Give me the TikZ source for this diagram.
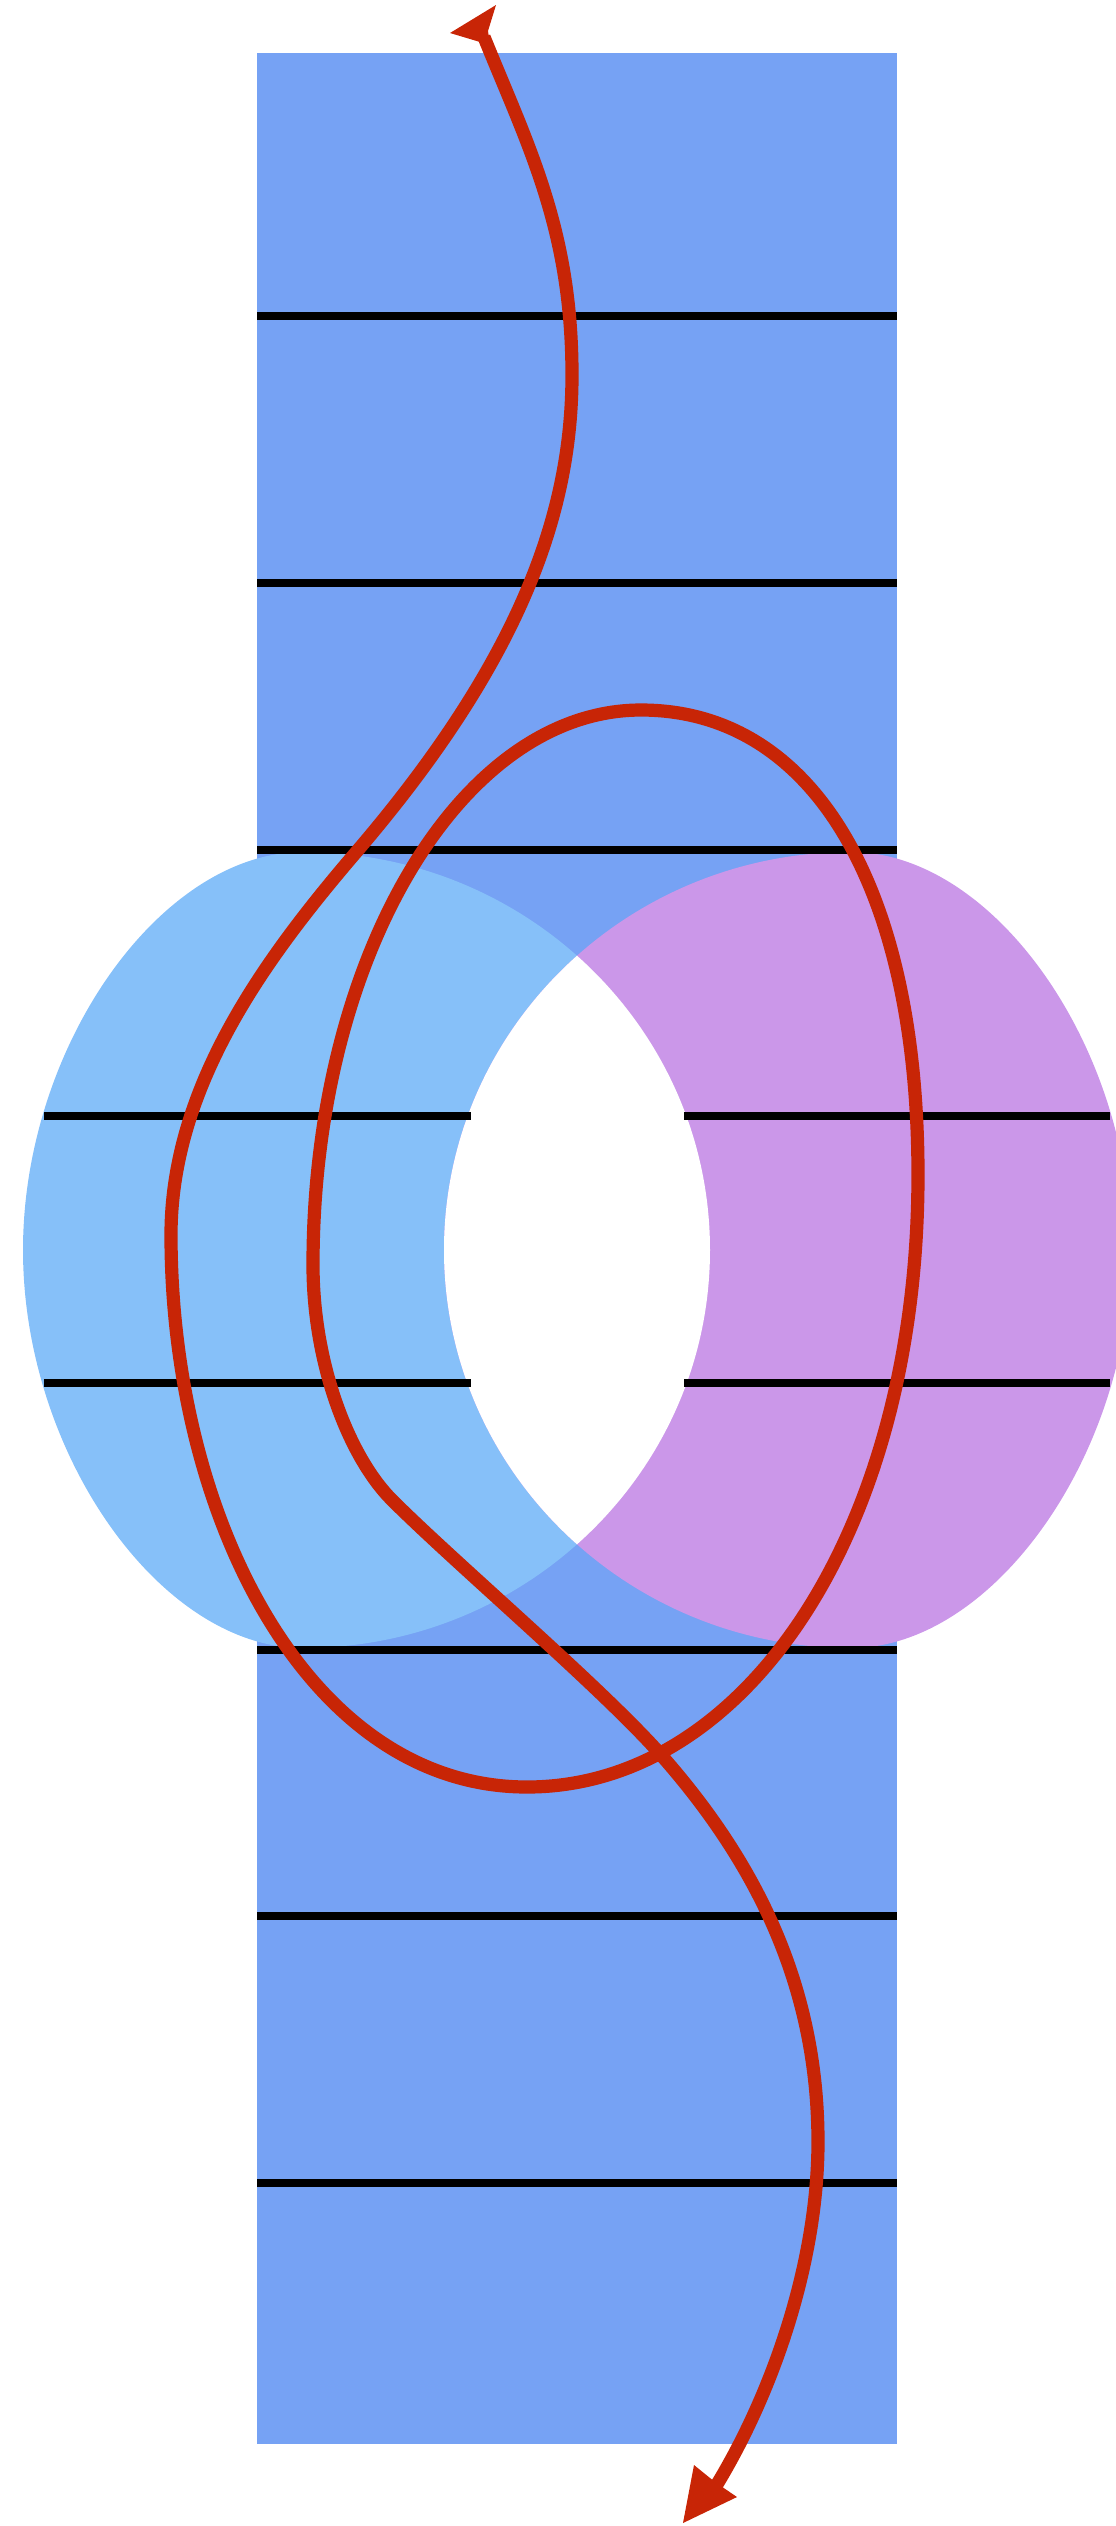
\documentclass[tikz,border=0pt]{standalone}
\definecolor{rectblue}{HTML}{76A2F4}
\definecolor{discblue}{HTML}{86C0F9}
\definecolor{discpurple}{HTML}{CB97E9}
\definecolor{curvered}{HTML}{C82506}
\tikzset{
  hline/.style={draw=black, line width=0.08cm},
  redcurve/.style={draw=curvered, line width=0.132cm},
  headfill/.style={fill=curvered}
}
\begin{document}
\begin{tikzpicture}[x=0.01cm,y=-0.01cm]
\useasboundingbox (0,0) rectangle (1116,2526);
\clip (0,0) rectangle (1116,2526);
% strip
\fill[rectblue] (257,53) rectangle (897,2444);
% left disc
\fill[discblue] (303,852) .. controls (527.8,852) and (710,1030.2) .. (710,1250)
  .. controls (710,1469.8) and (527.8,1648) .. (303,1648)
  .. controls (160.2,1648) and (23,1453) .. (23,1250)
  .. controls (23,1047) and (160.2,852) .. (303,852) -- cycle;
% right disc
\fill[discpurple] (851,852) .. controls (626.2,852) and (444,1030.2) .. (444,1250)
  .. controls (444,1469.8) and (626.2,1648) .. (851,1648)
  .. controls (993.8,1648) and (1131,1453) .. (1131,1250)
  .. controls (1131,1047) and (993.8,852) .. (851,852) -- cycle;
% lens
\begin{scope}
\clip (303,852) .. controls (527.8,852) and (710,1030.2) .. (710,1250)
  .. controls (710,1469.8) and (527.8,1648) .. (303,1648)
  .. controls (160.2,1648) and (23,1453) .. (23,1250)
  .. controls (23,1047) and (160.2,852) .. (303,852) -- cycle;
\fill[white] (851,852) .. controls (626.2,852) and (444,1030.2) .. (444,1250)
  .. controls (444,1469.8) and (626.2,1648) .. (851,1648)
  .. controls (993.8,1648) and (1131,1453) .. (1131,1250)
  .. controls (1131,1047) and (993.8,852) .. (851,852) -- cycle;
\end{scope}
% horizontal lines
\foreach \yy in {316,583,850,1650,1916,2183}{
  \draw[hline] (257,\yy) -- (897,\yy);
}
\foreach \yy in {1116,1383}{
  \draw[hline] (44,\yy) -- (471,\yy);
  \draw[hline] (684,\yy) -- (1110,\yy);
}
% red curve
\coordinate (cstart) at (484,37);
\coordinate (cend) at (716,2486);
\draw[redcurve] (cstart) .. controls (529,148) and (572,230) .. (572,375)
  .. controls (572,505) and (527,652) .. (358,850)
  .. controls (267,956) and (171,1085) .. (171,1235)
  .. controls (171,1515) and (307,1787) .. (527,1787)
  .. controls (746,1787) and (918,1530) .. (918,1175)
  .. controls (918,887) and (813,710) .. (641,710)
  .. controls (460,710) and (313,958.5) .. (313,1265)
  .. controls (313,1365) and (349.6,1457.6) .. (392,1500)
  .. controls (455.6,1563.6) and (602.6,1688.5) .. (662,1756)
  .. controls (761,1868.5) and (818,1992) .. (818,2142)
  .. controls (818,2262) and (773,2392.5) .. (cend);
% arrow heads
\fill[headfill] (450,33) -- (496,5) -- (488,31) -- (490,45) -- cycle;
\fill[headfill] (683,2523) -- (694,2465) -- (715,2482) -- (737,2497) -- cycle;
\end{tikzpicture}
\end{document}
